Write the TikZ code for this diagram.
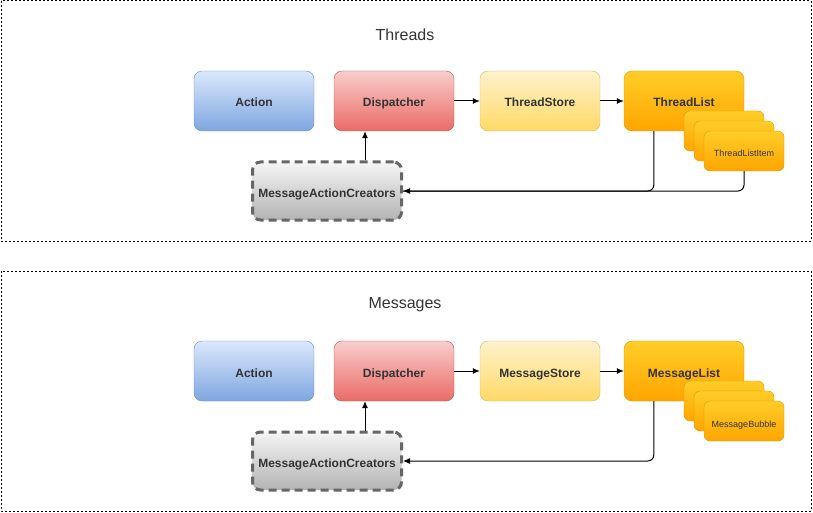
\documentclass[tikz,border=0pt]{standalone}
\usepackage{fontspec}
\setmainfont{Liberation Sans}
\usepackage{tikz}
\usetikzlibrary{arrows.meta}
\definecolor{txt}{HTML}{333333}
\definecolor{actionline}{HTML}{6C8EBF}
\definecolor{actiontop}{HTML}{DAE8FC}
\definecolor{actionbot}{HTML}{7EA6E0}
\definecolor{displine}{HTML}{B85450}
\definecolor{disptop}{HTML}{F8CECC}
\definecolor{dispbot}{HTML}{EA6B66}
\definecolor{storeline}{HTML}{D6B656}
\definecolor{storetop}{HTML}{FFF2CC}
\definecolor{storebot}{HTML}{FFD966}
\definecolor{listline}{HTML}{D79B00}
\definecolor{listtop}{HTML}{FFCD28}
\definecolor{listbot}{HTML}{FFA500}
\definecolor{creatorline}{HTML}{666666}
\definecolor{creatortop}{HTML}{F5F5F5}
\definecolor{creatorbot}{HTML}{B3B3B3}
\tikzset{
    block/.style={draw, rounded corners=8pt, minimum width=120pt, minimum height=60pt,
    	inner sep=0pt, text=txt, text height=12pt, text depth=0pt,
    	font=\fontsize{12}{14}\selectfont\bfseries},
    actionbox/.style={block, draw=actionline, top color=actiontop, bottom color=actionbot},
    dispbox/.style={block, draw=displine, top color=disptop, bottom color=dispbot},
    storebox/.style={block, draw=storeline, top color=storetop, bottom color=storebot},
    listbox/.style={block, draw=listline, top color=listtop, bottom color=listbot},
    itembox/.style={listbox, minimum width=80pt, minimum height=40pt, rounded corners=6pt,
    	font=\fontsize{9}{11}\selectfont},
    creatorbox/.style={block, draw=creatorline, top color=creatortop, bottom color=creatorbot,
    	line width=3pt, dash pattern=on 8pt off 5pt, minimum width=149pt, minimum height=58pt},
    frame/.style={draw, line width=1pt, dash pattern=on 2pt off 2pt},
    title/.style={text=txt, font=\fontsize{16}{19}\selectfont}
}
\tikzset{
    every edge/.append style={line width=1pt, -{Latex[length=7pt,width=6pt]}}
}

\begin{document}
\begin{tikzpicture}[x=1pt, y=-1pt]
	\useasboundingbox (0,0) rectangle (813,513);
	% threads
	\draw[frame] (1,1) rectangle (811,241);
	\node (t title) [title] at (405,35) {Threads};
	\node (t action) [actionbox] at (254,101) {Action};
	\node (t disp) [dispbox] at (394,101) {Dispatcher};
	\node (t store) [storebox] at (540,101) {ThreadStore};
	\node (t list) [listbox] at (684,101) {ThreadList};
	\node (t item1) [itembox] at (724,131) {};
	\node (t item2) [itembox] at (734,141) {};
	\node (t item3) [itembox] at (744,151) {ThreadListItem};
	\node (t mac) [creatorbox] at (327,191) {MessageActionCreators};

	\draw (t disp) edge (t store); \draw (t store) edge (t list);
	\draw ([xshift=38pt]t mac.north) edge ([xshift=-29pt]t disp.south);
	\draw[line width=1pt, rounded corners=6pt] (t item3.south) |- (t mac.east);
	\draw[line width=1pt, rounded corners=6pt, -{Latex[length=7pt,width=6pt]}]
		([xshift=30pt]t list.south west) |- (t mac.east);

	% messages
	\draw[frame] (1,271) rectangle (811,511);
	\node (m title) [title] at (405,305) {Messages};
	\node (m action) [actionbox] at (254,371) {Action};
	\node (m disp) [dispbox] at (394,371) {Dispatcher};
	\node (m store) [storebox] at (540,371) {MessageStore};
	\node (m list) [listbox] at (684,371) {MessageList};
	\node (m item1) [itembox] at (724,401) {};
	\node (m item2) [itembox] at (734,411) {};
	\node (m item3) [itembox] at (744,421) {MessageBubble};
	\node (m mac) [creatorbox] at (327,461) {MessageActionCreators};

	\draw (m disp) edge (m store); \draw (m store) edge (m list);
	\draw ([xshift=38pt]m mac.north) edge ([xshift=-29pt]m disp.south);
	\draw[line width=1pt, rounded corners=6pt, -{Latex[length=7pt,width=6pt]}]
		([xshift=30pt]m list.south west) |- (m mac.east);
\end{tikzpicture}
\end{document}
